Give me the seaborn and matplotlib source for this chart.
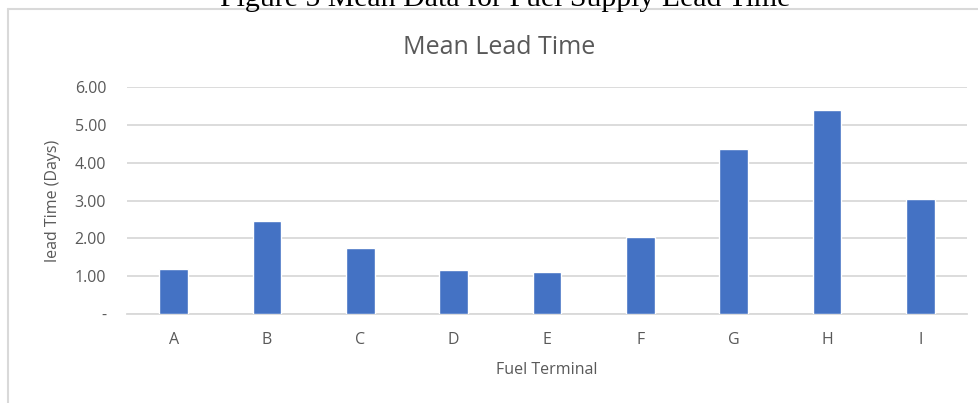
import matplotlib
matplotlib.use("Agg")
import matplotlib.pyplot as plt
from matplotlib.lines import Line2D
import seaborn as sns
import pandas as pd

# Mean lead time per fuel terminal (days)
terminals = ["A", "B", "C", "D", "E", "F", "G", "H", "I"]
lead_days = [1.18, 2.45, 1.75, 1.15, 1.10, 2.03, 4.37, 5.39, 3.05]
y_ticks = [0, 1, 2, 3, 4, 5, 6]

caption = "Figure 5 Mean Data for Fuel Supply Lead Time"
title = "Mean Lead Time"

sns.set_theme(style="white")
plt.rcParams["font.family"] = ["Open Sans", "DejaVu Sans"]

text_gray = "#595959"
grid_gray = "#D9D9D9"
bar_blue = "#4472C4"

df = pd.DataFrame({"terminal": terminals, "days": lead_days})

fig = plt.figure(figsize=(9.79, 4.03), dpi=100)
ax = fig.add_axes([127 / 979, 1 - 314 / 403, (967 - 127) / 979, (314 - 87) / 403])

sns.barplot(data=df, x="terminal", y="days", color=bar_blue, width=0.31,
            saturation=1, ax=ax, zorder=3)

ax.set_ylim(0, 6)
ax.set_yticks(y_ticks)
ax.set_yticklabels(["-" if v == 0 else f"{v:.2f}" for v in y_ticks])
ax.yaxis.grid(True, color=grid_gray, linewidth=1.3)
ax.set_axisbelow(True)
for s in ["top", "right", "left"]:
    ax.spines[s].set_visible(False)
ax.spines["bottom"].set_color(grid_gray)
ax.spines["bottom"].set_linewidth(1.3)

ax.tick_params(axis="y", length=0, pad=15, labelsize=11.5, labelcolor=text_gray)
ax.tick_params(axis="x", length=0, pad=13, labelsize=11.5, labelcolor=text_gray)

ax.set_xlabel("Fuel Terminal", fontsize=11.5, color=text_gray, labelpad=10)
ax.set_ylabel("lead Time (Days)", fontsize=11.5, color=text_gray, labelpad=10)

# chart title is centred on the whole chart box, not the plot area
fig.text(499 / 979, 1 - 54 / 403, title, ha="center", va="baseline",
         fontsize=18, color=text_gray)

# chart border (cropped by the image edge) and the figure caption above it
fig.add_artist(Line2D([8 / 979, 8 / 979], [0, 1 - 9 / 403], color=grid_gray,
                      linewidth=1.5, transform=fig.transFigure))
fig.add_artist(Line2D([8 / 979, 1], [1 - 9 / 403, 1 - 9 / 403], color=grid_gray,
                      linewidth=1.5, transform=fig.transFigure))
fig.text(505 / 979, 1 - 6 / 403, caption, ha="center", va="baseline",
         fontsize=21.5, color="black", family=["Liberation Serif"])

fig.savefig("out.png", dpi=100)
